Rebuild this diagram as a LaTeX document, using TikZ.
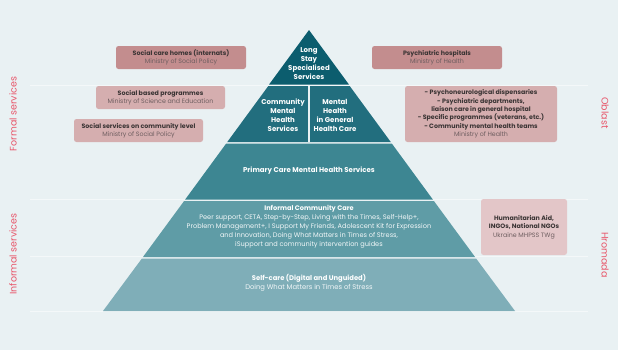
\documentclass[tikz,border=0pt]{standalone}
\usepackage{fontspec}
\setmainfont{Poppins}
\definecolor{bg}{HTML}{E9F1F3}
\definecolor{tA}{HTML}{0C5D6E}
\definecolor{tB}{HTML}{226E7E}
\definecolor{tC}{HTML}{3D8692}
\definecolor{tD}{HTML}{5F9CA6}
\definecolor{tE}{HTML}{7FAEB8}
\definecolor{boxdark}{HTML}{C38D8E}
\definecolor{boxmid}{HTML}{D5AEAF}
\definecolor{boxlight}{HTML}{E3C6C8}
\definecolor{ttl}{HTML}{3A3434}
\definecolor{sub}{HTML}{6E5E60}
\definecolor{side}{HTML}{E8566A}
\definecolor{faint}{HTML}{F4F8F9}
\tikzset{
  pbox/.style={rounded corners=2.5bp, draw=none},
  btxt/.style={align=center, font=\fontsize{6.3bp}{8.4bp}\selectfont, inner sep=0pt},
  ttxt/.style={align=center, text=white, font=\fontsize{7bp}{9bp}\selectfont\bfseries, inner sep=0pt},
  bodytxt/.style={align=center, text=white, font=\fontsize{6.6bp}{9bp}\selectfont, inner sep=0pt},
  sidelbl/.style={text=side, font=\fontsize{9.5bp}{12bp}\selectfont, inner sep=0pt},
  sep/.style={draw=bg, line width=1.6bp},
  fline/.style={draw=faint, line width=0.8bp}
}
\begin{document}
\begin{tikzpicture}[x=1bp,y=-1bp]
\fill[bg] (0,0) rectangle (618,350);
\useasboundingbox (0,0) rectangle (618,350);
% faint guide lines
\foreach \yy in {85.5,199,256,311} {\draw[fline] (30,\yy) -- (588,\yy);}
% pyramid tiers  (apex 309,30; slope 0.7331)
\fill[tA] (309,30) -- (349.0,84.6) -- (269.0,84.6) -- cycle;
\fill[tB] (268.3,86) -- (349.7,86) -- (390.9,142.2) -- (227.1,142.2) -- cycle;
\fill[tC] (226.2,143.5) -- (391.8,143.5) -- (432.9,199.6) -- (185.1,199.6) -- cycle;
\fill[tD] (184.1,201) -- (433.9,201) -- (475.2,257.2) -- (142.8,257.2) -- cycle;
\fill[tE] (141.9,258.5) -- (476.1,258.5) -- (515,311) -- (103,311) -- cycle;
\draw[sep] (309,86) -- (309,142.2);
% tier texts
\node[ttxt] (t1) at (309,63.5) {Long\\Stay\\Specialised\\Services};
\node[ttxt] (t2a) at (283,115.5) {Community\\Mental\\Health\\Services};
\node[ttxt] (t2b) at (335,115.5) {Mental\\Health\\in General\\Health Care};
\node[ttxt] (t3) at (309,171) {Primary Care Mental Health Services};
\node[bodytxt] (t4) at (309,227) {\textbf{Informal Community Care}\\
\color{white!92!tD}Peer support, CETA, Step-by-Step, Living with the Times, Self-Help+,\\
\color{white!92!tD}Problem Management+, I Support My Friends, Adolescent Kit for Expression\\
\color{white!92!tD}and Innovation, Doing What Matters in Times of Stress,\\
\color{white!92!tD}iSupport and community intervention guides};
\node[bodytxt, font=\fontsize{6.8bp}{9.5bp}\selectfont] (t5) at (309,283) {\textbf{Self-care (Digital and Unguided)}\\
\color{white!90!tE}Doing What Matters in Times of Stress};
% side boxes
\fill[pbox, boxdark] (116,46) rectangle (246,69);
\node[btxt] (b1) at (181,57.5) {\textcolor{ttl}{\textbf{Social care homes (internats)}}\\\textcolor{sub}{Ministry of Social Policy}};
\fill[pbox, boxmid] (96,86) rectangle (225,109);
\node[btxt] (b2) at (160.5,97.5) {\textcolor{ttl}{\textbf{Social based programmes}}\\\textcolor{sub}{Ministry of Science and Education}};
\fill[pbox, boxmid] (74,119) rectangle (203,142);
\node[btxt] (b3) at (138.5,130.5) {\textcolor{ttl}{\textbf{Social services on community level}}\\\textcolor{sub}{Ministry of Social Policy}};
\fill[pbox, boxdark] (372,46) rectangle (502,69);
\node[btxt] (b4) at (437,57.5) {\textcolor{ttl}{\textbf{Psychiatric hospitals}}\\\textcolor{sub}{Ministry of Health}};
\fill[pbox, boxmid] (405,86) rectangle (557,142);
\node[btxt] (b5) at (481,114) {\textcolor{ttl}{\textbf{- Psychoneurological dispensaries}}\\
\textcolor{ttl}{\textbf{- Psychiatric departments,}}\\
\textcolor{ttl}{\textbf{liaison care in general hospital}}\\
\textcolor{ttl}{\textbf{- Specific programmes (veterans, etc.)}}\\
\textcolor{ttl}{\textbf{- Community mental health teams}}\\
\textcolor{sub}{Ministry of Health}};
\fill[pbox, boxlight] (481,199) rectangle (567,255);
\node[btxt] (b6) at (524,227) {\textcolor{ttl}{\textbf{Humanitarian Aid,}}\\\textcolor{ttl}{\textbf{INGOs, National NGOs}}\\\textcolor{sub}{Ukraine MHPSS TWg}};
% side labels
\node[sidelbl, rotate=90] (s1) at (13,114) {Formal services};
\node[sidelbl, rotate=90] (s2) at (13,254) {Informal services};
\node[sidelbl, rotate=-90] (s3) at (605,113) {Oblast};
\node[sidelbl, rotate=-90] (s4) at (605,255) {Hromada};
\end{tikzpicture}
\end{document}
